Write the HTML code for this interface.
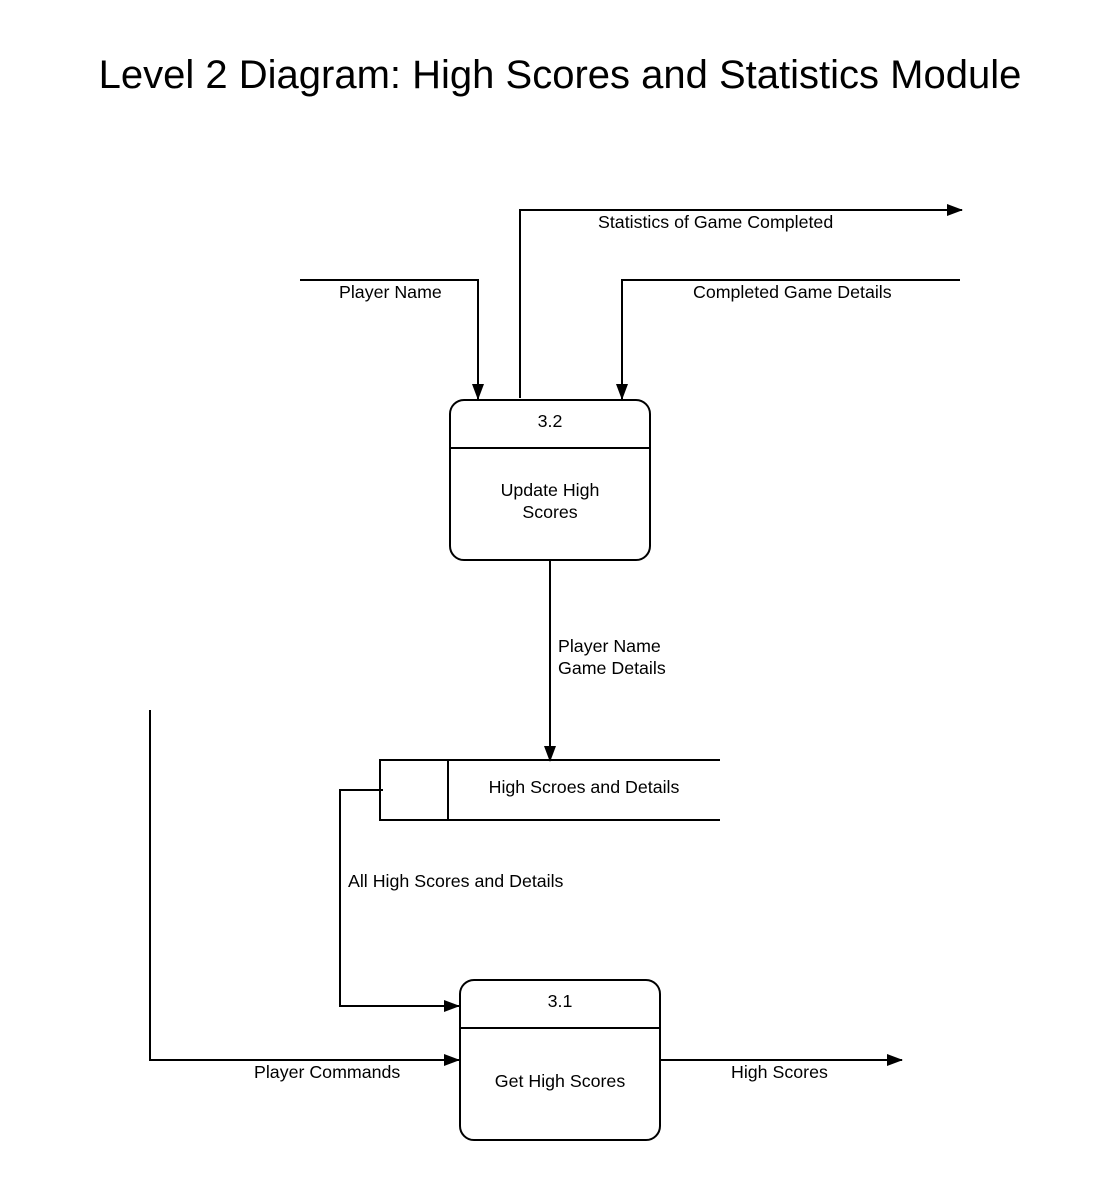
<!DOCTYPE html>
<html><head><meta charset="utf-8"><style>
html,body{margin:0;padding:0;background:#fff;}
svg{display:block;}
text{font-family:"Liberation Sans",Arial,sans-serif;fill:#000;}
</style></head><body>
<svg width="1120" height="1180" viewBox="0 0 1120 1180" xmlns="http://www.w3.org/2000/svg">
<defs><marker id="a" markerWidth="16" markerHeight="12" refX="15" refY="6" orient="auto" markerUnits="userSpaceOnUse"><path d="M0,0 L16,6 L0,12 z" fill="#000"/></marker></defs>
<text x="560" y="88" font-size="40" text-anchor="middle">Level 2 Diagram: High Scores and Statistics Module</text>
<g fill="none" stroke="#000" stroke-width="2">
<rect x="450" y="400" width="200" height="160" rx="14"/>
<line x1="450" y1="448" x2="650" y2="448"/>
<rect x="460" y="980" width="200" height="160" rx="14"/>
<line x1="460" y1="1028" x2="660" y2="1028"/>
<polyline points="720,760 380,760 380,820 720,820"/>
<line x1="448" y1="760" x2="448" y2="820"/>
<polyline points="300,280 478,280 478,399" marker-end="url(#a)"/>
<polyline points="520,398 520,210 962,210" marker-end="url(#a)"/>
<polyline points="960,280 622,280 622,399" marker-end="url(#a)"/>
<polyline points="550,561 550,761" marker-end="url(#a)"/>
<polyline points="383,790 340,790 340,1006 459,1006" marker-end="url(#a)"/>
<polyline points="150,710 150,1060 459,1060" marker-end="url(#a)"/>
<polyline points="661,1060 902,1060" marker-end="url(#a)"/>
</g>
<g font-size="17.8">
<text x="550" y="427" text-anchor="middle">3.2</text>
<text x="550" y="496" text-anchor="middle">Update High</text>
<text x="550" y="518" text-anchor="middle">Scores</text>
<text x="560" y="1007" text-anchor="middle">3.1</text>
<text x="560" y="1087" text-anchor="middle">Get High Scores</text>
<text x="584" y="793" text-anchor="middle">High Scroes and Details</text>
<text x="339" y="298">Player Name</text>
<text x="598" y="228">Statistics of Game Completed</text>
<text x="693" y="298">Completed Game Details</text>
<text x="558" y="652">Player Name</text>
<text x="558" y="674">Game Details</text>
<text x="348" y="887">All High Scores and Details</text>
<text x="254" y="1078">Player Commands</text>
<text x="731" y="1078">High Scores</text>
</g>
</svg>
</body></html>
